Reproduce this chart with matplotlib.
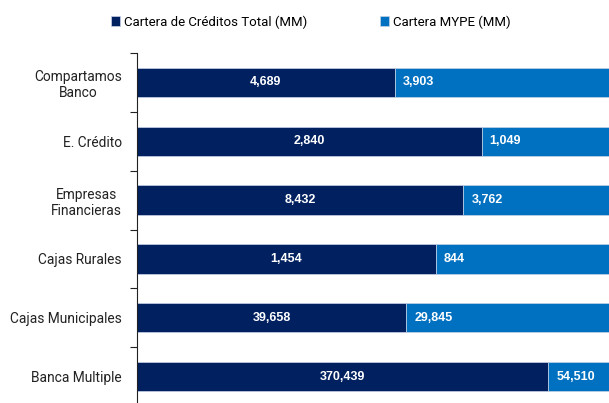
import matplotlib.pyplot as plt
import numpy as np

plt.rcParams['font.family'] = ['Roboto', 'DejaVu Sans']

categories = ["Compartamos\nBanco", "E. Crédito", "Empresas\nFinancieras",
              "Cajas Rurales", "Cajas Municipales", "Banca Multiple"]
total = [4689, 2840, 8432, 1454, 39658, 370439]
mype = [3903, 1049, 3762, 844, 29845, 54510]

dark = '#002060'
light = '#0070C0'

total = np.array(total, dtype=float)
mype = np.array(mype, dtype=float)
share_t = total / (total + mype)
share_m = mype / (total + mype)

fig = plt.figure(figsize=(6.09, 4.03), dpi=100)
ax = fig.add_axes([137 / 609, -3 / 403, 1 - 137 / 609, 353 / 403])

y = np.arange(len(categories))
b1 = ax.barh(y, share_t, height=0.5, color=dark, edgecolor='#c8d3e6', linewidth=0.5,
             label='Cartera de Créditos Total (MM)')
b2 = ax.barh(y, share_m, left=share_t, height=0.5, color=light, edgecolor='#c8d3e6',
             linewidth=0.5, label='Cartera MYPE (MM)')

for i in range(len(categories)):
    ax.text(share_t[i] / 2, y[i], f'{int(total[i]):,}', ha='center', va='center',
            color='white', fontsize=9, fontweight='bold', family='Liberation Sans')
    ax.text(share_t[i] + 0.017, y[i], f'{int(mype[i]):,}', ha='left', va='center',
            color='white', fontsize=9, fontweight='bold', family='Liberation Sans')

ax.set_xlim(0, 1)
ax.set_ylim(len(categories) - 0.5, -0.5)
ax.set_yticks(y)
ax.set_yticklabels(categories, fontsize=9.9, color='#222222', multialignment='center')
ax.set_yticks(np.arange(len(categories) + 1) - 0.5, minor=True)
ax.tick_params(axis='y', which='major', length=0, pad=11)
ax.tick_params(axis='y', which='minor', length=5, width=0.8, color='#222222')
ax.set_xticks([])
for s in ['top', 'right', 'bottom']:
    ax.spines[s].set_visible(False)
ax.spines['left'].set_color('#222222')
ax.spines['left'].set_linewidth(0.8)

fig.legend(handles=[b1, b2], loc='center', bbox_to_anchor=(0.51, 1 - 22 / 403), ncol=2,
           frameon=False, fontsize=9.5, handlelength=0.7, handleheight=0.7,
           handletextpad=0.3, columnspacing=5.5)

fig.savefig('out.png', dpi=100)
